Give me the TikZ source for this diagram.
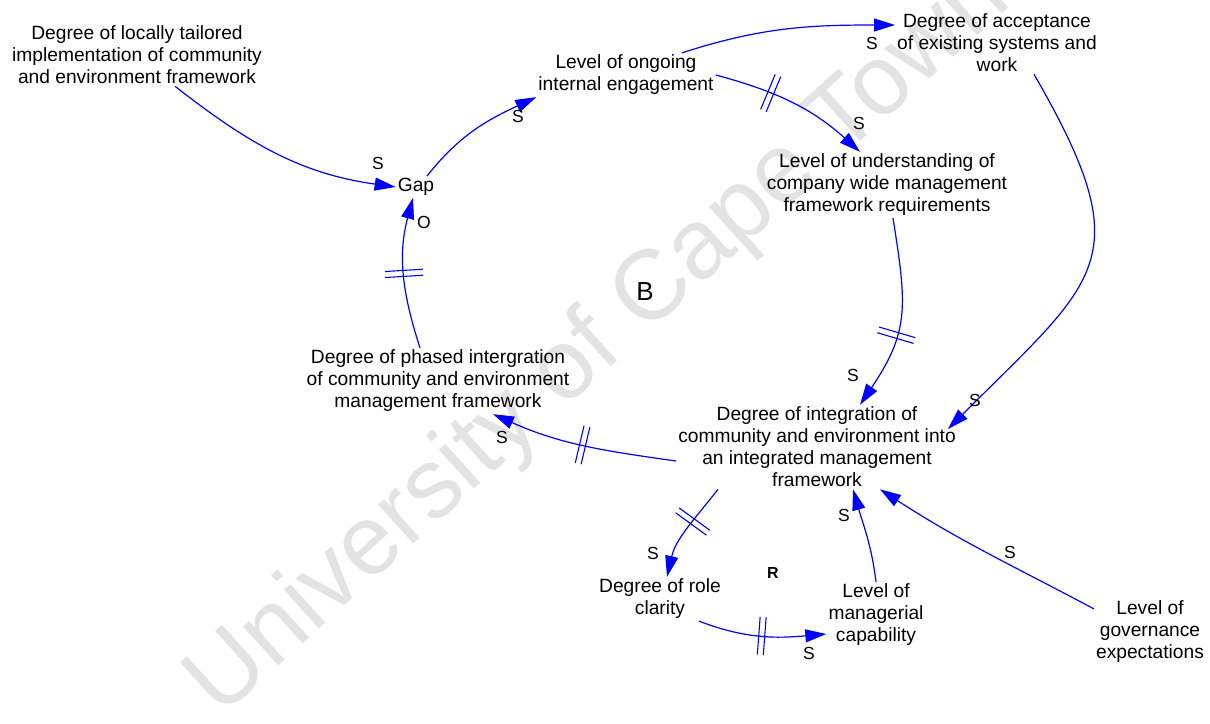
\documentclass[tikz,border=0pt]{standalone}
\usepackage{fontspec}
\setmainfont{Liberation Sans}
\usetikzlibrary{arrows.meta,decorations.markings}

\tikzset{
  var/.style={align=center, inner sep=2pt, font=\fontsize{19.2}{22}\selectfont},
  pol/.style={inner sep=0pt, font=\fontsize{17.5}{20}\selectfont},
  link/.style={draw=blue, line width=1.2pt, -{Triangle[length=21pt,width=13pt]}},
  delay/.style={postaction={decorate, decoration={markings,
      mark=at position #1 with {\draw[-, blue, line width=1.1pt]
        (-3pt,-19pt) -- (-3pt,19pt) (3pt,-19pt) -- (3pt,19pt);}}}},
  watermark/.style={text=black!11, font=\fontsize{99}{105}\selectfont, rotate=42}
}

\begin{document}
\begin{tikzpicture}[x=1pt,y=1pt]
\useasboundingbox (0,0) rectangle (1210,-723);

% background watermark
\node[watermark] (wm) at (600,-342) {University of Cape Town};

% variables
\node[var] (loc)   at (137,-55)  {Degree of locally tailored\\implementation of community\\and environment framework};
\node[var] (gap)   at (416,-187) {Gap};
\node[var] (eng)   at (626,-75)  {Level of ongoing\\internal engagement};
\node[var] (acc)   at (997,-43)  {Degree of acceptance\\of existing systems and\\work};
\node[var] (und)   at (887,-185) {Level of understanding of\\company wide management\\framework requirements};
\node[var] (phase) at (438,-381) {Degree of phased intergration\\of community and environment\\management framework};
\node[var] (integ) at (817,-447) {Degree of integration of\\community and environment into\\an integrated management\\framework};
\node[var] (role)  at (660,-599) {Degree of role\\clarity};
\node[var] (mgr)   at (876,-615) {Level of\\managerial\\capability};
\node[var] (gov)   at (1150,-632) {Level of\\governance\\expectations};

% loop markers
\node[inner sep=0pt, font=\fontsize{26}{28}\selectfont] (loopB) at (645,-292) {B};
\node[inner sep=0pt, font=\fontsize{16}{18}\selectfont\bfseries] (loopR) at (773,-573) {R};

% causal links
\draw[link] ([xshift=38pt]loc.south) to[out=-38,in=172] (gap.west);
\draw[link] ([xshift=11pt]gap.north) to[out=52,in=-155] (eng.south west);
\draw[link] ([xshift=56pt]eng.north) to[out=18,in=180] ([yshift=18pt]acc.west);
\draw[link, delay=0.35] (eng.east) to[out=-15,in=138] ([xshift=-27pt]und.north);
\draw[link, delay=0.6] ([xshift=6pt]und.south) to[out=-81,in=56,looseness=1.2] ([xshift=43pt]integ.north);
\draw[link] ([xshift=37pt]acc.south) to[out=-60,in=45,looseness=1.5] ([xshift=-10pt,yshift=18pt]integ.east);
\draw[link, delay=0.5] ([yshift=-14pt]integ.west) to[out=172,in=-24] ([xshift=55pt]phase.south);
\draw[link, delay=0.5] ([xshift=-18pt]phase.north) to[out=108,in=-105] ([xshift=-3pt]gap.south);
\draw[link, delay=0.4] ([xshift=-99pt]integ.south) to[out=-128,in=77] ([xshift=7pt]role.north);
\draw[link, delay=0.5] ([xshift=39pt]role.south) to[out=-21,in=185] ([yshift=-19pt]mgr.west);
\draw[link] (mgr.north) to[out=97,in=-74] ([xshift=36pt]integ.south);
\draw[link] ([yshift=-10pt]gov.north west) to[out=152,in=-33] ([xshift=63pt]integ.south);

% polarity labels
\node[pol] (p1)  at (378,-163) {S};
\node[pol] (p2)  at (518,-116) {S};
\node[pol] (p3)  at (872,-43)  {S};
\node[pol] (p4)  at (859,-123) {S};
\node[pol] (p5)  at (853,-375) {S};
\node[pol] (p6)  at (975,-400) {S};
\node[pol] (p7)  at (502,-437) {S};
\node[pol] (p8)  at (424,-222) {O};
\node[pol] (p9)  at (653,-553) {S};
\node[pol] (p10) at (809,-653) {S};
\node[pol] (p11) at (844,-515) {S};
\node[pol] (p12) at (1010,-552) {S};
\end{tikzpicture}
\end{document}
